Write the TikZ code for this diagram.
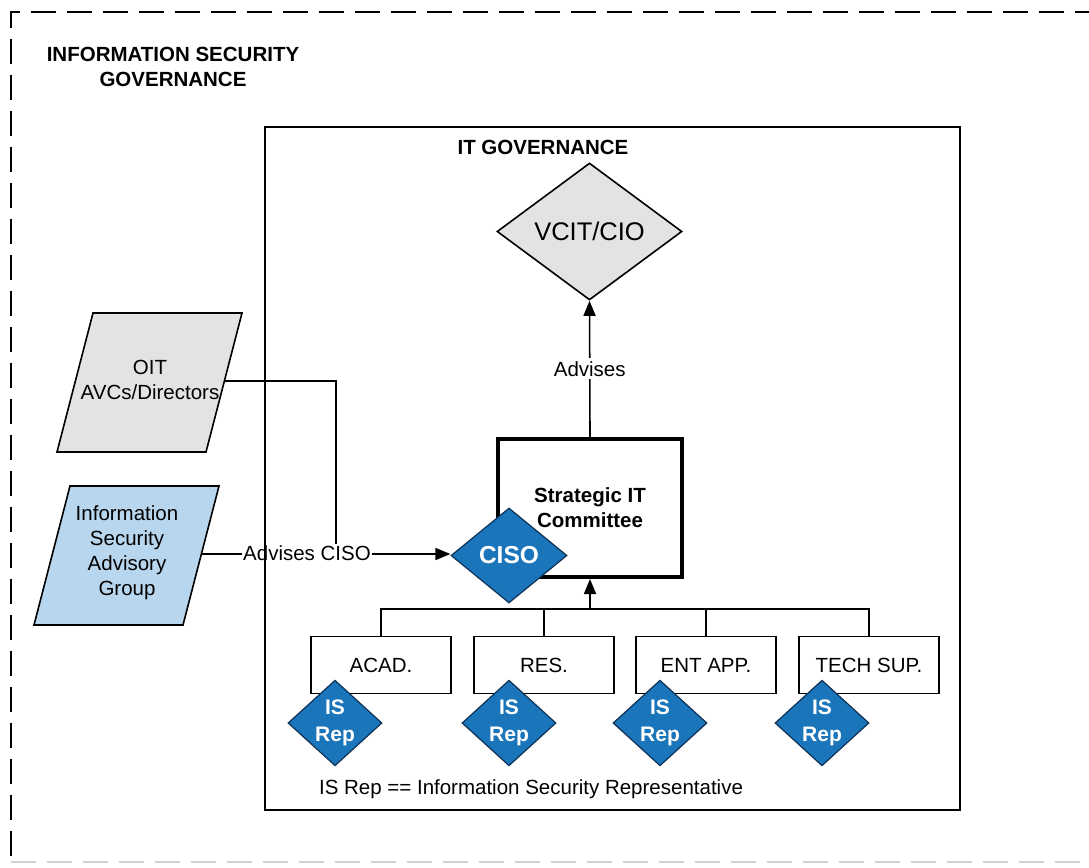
\documentclass[tikz,border=0pt]{standalone}
\usepackage{fontspec}
\setmainfont{Liberation Sans}
\usetikzlibrary{shapes.geometric,arrows.meta}
\definecolor{isblue}{RGB}{27,117,187}
\definecolor{isblueline}{RGB}{14,50,85}
\definecolor{lightblue}{RGB}{184,214,238}
\definecolor{lightgray}{RGB}{227,227,227}
\tikzset{
  txt/.style={font=\fontsize{20.5}{25}\selectfont, align=center, inner sep=1pt},
  btxt/.style={font=\fontsize{20.5}{25}\selectfont\bfseries, align=center, inner sep=1pt},
  conn/.style={line width=1.6pt, draw=black},
  arr/.style={conn, -{Triangle[length=15pt,width=12pt]}},
  unitbox/.style={draw=black, line width=1.6pt, fill=white, minimum width=140pt, minimum height=57pt,
     font=\fontsize{20.5}{25}\selectfont, inner sep=0pt},
  bluedia/.style={diamond, draw=isblueline, line width=1.2pt, fill=isblue, text=white,
     inner sep=0pt, align=center},
  isrep/.style={bluedia, minimum width=94pt, minimum height=81pt,
     font=\fontsize{21}{27}\selectfont\bfseries},
}
\begin{document}
\begin{tikzpicture}[x=1pt,y=-1pt]
\useasboundingbox (0,0) rectangle (1089,867);
% outer dashed frame
\begin{scope}
\clip (0,0) rectangle (1089,867);
\draw[line width=2.2pt, dash pattern=on 25pt off 11pt] (1100,12) -- (11,12) -- (11,862);
\draw[line width=1.5pt, draw=black!18, dash pattern=on 25pt off 11pt] (11,862) -- (1100,862);
\end{scope}
\node[btxt] (title) at (173,67) {INFORMATION SECURITY\\GOVERNANCE};

% left parallelograms
\draw[line width=1.6pt, fill=lightgray] (93,313) -- (242,313) -- (206,452) -- (57,452) -- cycle;
\node[txt] (oit) at (150,380) {OIT\\AVCs/Directors};
\draw[line width=1.6pt, fill=lightblue] (70,486) -- (219,486) -- (183,625) -- (34,625) -- cycle;
\node[txt] (isag) at (127,553) {Information\\Security\\Advisory\\Group};
\coordinate (oitE) at (224,381);
\coordinate (isagE) at (202,554);
\coordinate (joinpt) at (336,554);

% strategic committee
\node[draw=black, line width=4pt, minimum width=184pt, minimum height=138pt, fill=white, btxt] (strat) at (590,508) {Strategic IT\\Committee};

% VCIT
\node[diamond, draw=black, line width=1.6pt, fill=lightgray, minimum width=185pt, minimum height=137pt,
  inner sep=0pt, font=\fontsize{25.5}{30}\selectfont] (vcit) at (589.5,231.5) {VCIT/CIO};

\draw[arr] (strat.north) -- node[txt, fill=white, inner sep=3pt] (adv) {Advises} (vcit.south);

% connectors to CISO
\draw[conn] (oitE) -| (joinpt);
\node[bluedia, minimum width=116pt, minimum height=95pt, font=\fontsize{24.5}{28}\selectfont\bfseries] (ciso) at (509,555.5) {CISO};
\draw[arr] (isagE) -- (ciso.west |- isagE);
\node[txt, fill=white, inner sep=1pt] (advciso) at (307,553) {Advises CISO};

% unit boxes
\node[unitbox] (acad) at (381,665) {ACAD.};
\node[unitbox] (res) at (544,665) {RES.};
\node[unitbox] (ent) at (706,665) {ENT APP.};
\node[unitbox] (tech) at (869,665) {TECH SUP.};
\coordinate (bus) at (590,609);
\draw[conn] (acad.north) |- (bus) -| (tech.north);
\draw[conn] (res.north) -- (res.north |- bus);
\draw[conn] (ent.north) -- (ent.north |- bus);
\draw[arr] (bus) -- (strat.south);

% IS reps
\node[isrep] (r1) at (335,723) {IS\\Rep};
\node[isrep] (r2) at (509,723) {IS\\Rep};
\node[isrep] (r3) at (660,723) {IS\\Rep};
\node[isrep] (r4) at (822,723) {IS\\Rep};

\node[txt] (legend) at (531,789) {IS Rep == Information Security Representative};

% IT governance frame
\draw[line width=2pt] (265,127) rectangle (960,810);
\node[btxt] (itgov) at (543,147) {IT GOVERNANCE};
\end{tikzpicture}
\end{document}
